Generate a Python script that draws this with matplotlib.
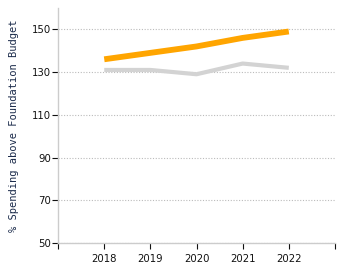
import matplotlib
matplotlib.use("Agg")
import matplotlib.pyplot as plt

years = [2018, 2019, 2020, 2021, 2022]
orange_vals = [136, 139, 142, 146, 149]
gray_vals = [131, 131, 129, 134, 132]
yticks = [50, 70, 90, 110, 130, 150]

fig = plt.figure(figsize=(3.5, 2.75), dpi=100)
ax = fig.add_axes([0.166, 0.116, 0.791, 0.855])

ax.plot(years, gray_vals, color="#d3d3d3", linewidth=3, solid_capstyle="butt", zorder=2)
ax.plot(years, orange_vals, color="#ffa500", linewidth=4.2, solid_capstyle="butt", zorder=3)

ax.set_xlim(2017, 2023)
ax.set_ylim(50, 160)
ax.set_yticks(yticks)
ax.set_xticks([2017] + years + [2023])
ax.set_xticklabels([""] + [str(y) for y in years] + [""])

for s in ["top", "right"]:
    ax.spines[s].set_visible(False)
for s in ["left", "bottom"]:
    ax.spines[s].set_color("#cccccc")
    ax.spines[s].set_linewidth(1)

ax.yaxis.grid(True, linestyle=(0, (1, 1.5)), color="#bbbbbb", linewidth=0.8)
ax.set_axisbelow(True)
ax.tick_params(axis="both", labelsize=7.3, colors="#111111", length=4, width=0.8)
ax.tick_params(axis="x", pad=4)
ax.tick_params(axis="y", pad=1)

ax.set_ylabel("% Spending above Foundation Budget", fontsize=7.5, family="DejaVu Sans Mono",
              color="#1a2a4a", labelpad=9)

fig.savefig("out.png", dpi=100)
